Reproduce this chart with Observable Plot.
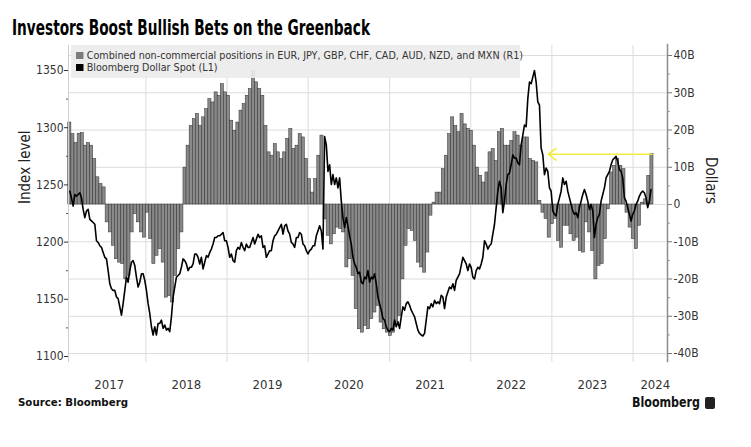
<!DOCTYPE html>
<html><head><meta charset="utf-8">
<script src="https://cdn.jsdelivr.net/npm/d3@7"></script>
<script src="https://cdn.jsdelivr.net/npm/@observablehq/plot@0.6"></script>
<style>
body{margin:0;background:#fff;}
#wrap{position:relative;width:751px;height:447px;overflow:hidden;font-family:"DejaVu Sans Condensed","DejaVu Sans",sans-serif;font-stretch:condensed;color:#222;}
#chart{position:absolute;left:0;top:0;}
#title{position:absolute;left:12px;top:18px;font-weight:bold;font-size:21px;line-height:21px;white-space:nowrap;transform-origin:0 0;color:#000;}
#legend{position:absolute;left:71px;top:45px;width:449px;height:33px;background:rgba(236,236,236,0.92);box-sizing:border-box;padding:5px 0 0 5px;font-size:10px;line-height:12.3px;color:#333;}
#legend .li{white-space:nowrap;transform-origin:0 50%;}
#legend .sw{display:inline-block;width:7px;height:7px;margin-right:3px;vertical-align:0px;}
#source{position:absolute;left:18px;top:396px;font-weight:bold;font-size:11px;line-height:14px;white-space:nowrap;color:#111;transform-origin:0 0;}
#logo{position:absolute;left:632px;top:394px;font-size:14px;line-height:17px;font-weight:bold;white-space:nowrap;color:#111;transform-origin:0 0;}
#logoIcon{position:absolute;left:705px;top:397px;width:10px;height:12px;background:#222;border-radius:2px;}
</style></head>
<body>
<div id="wrap"></div>
<script>
// ---------------- data ----------------
const titleText = "Investors Boost Bullish Bets on the Greenback";
const seriesBarName = "Combined non-commercial positions in EUR, JPY, GBP, CHF, CAD, AUD, NZD, and MXN (R1)";
const seriesLineName = "Bloomberg Dollar Spot (L1)";
const sourceText = "Source: Bloomberg";
const brandText = "Bloomberg";
const leftAxisTitle = "Index level";
const rightAxisTitle = "Dollars";

const seriesStart = "2017-01-24";   // first observation
const barStepDays = 14;             // bars: one every two weeks
const lineStepDays = 7.49;          // line: roughly weekly

// Combined non-commercial positions, billions of dollars (right axis)
const barValues = [
  22.0, 18.9, 16.5, 19.0, 19.2, 15.8, 16.5, 15.8, 12.2, 7.3, 5.5, 4.6,
  -4.8, -7.5, -11.1, -14.7, -15.6, -16.0, -20.1, -19.2, -7.5, -2.6, -4.8, -7.5,
  -8.9, -2.2, -9.3, -16.0, -13.8, -12.0, -15.6, -25.0, -24.6, -26.3, -19.2, -12.0,
  -7.5, 9.9, 15.8, 21.1, 22.9, 24.3, 21.1, 23.4, 25.6, 28.3, 27.4, 30.1,
  29.2, 32.3, 30.1, 29.2, 22.5, 19.8, 22.0, 25.2, 27.0, 29.2, 31.0, 35.9,
  32.8, 31.0, 29.2, 21.1, 14.0, 13.1, 16.2, 14.0, 12.2, 14.0, 17.6, 20.3,
  14.9, 15.8, 18.9, 18.0, 12.2, 6.8, 3.2, 6.8, 13.1, 18.5, -4.0, -8.4,
  -10.7, -8.0, -6.2, -6.6, -7.5, -16.9, -14.7, -19.2, -28.1, -33.5, -34.4, -32.6,
  -33.5, -30.8, -29.0, -27.2, -31.7, -33.5, -34.4, -35.3, -34.4, -31.7, -29.9, -20.1,
  -11.1, -6.6, -7.1, -9.8, -15.6, -16.9, -18.3, -12.9, -3.0, 0.5, 3.2, 3.2,
  9.5, 13.1, 18.9, 23.4, 21.1, 19.4, 24.3, 21.5, 20.3, 19.8, 15.8, 9.9,
  7.7, 5.9, 8.6, 14.0, 14.9, 11.7, 19.4, 20.3, 15.8, 15.8, 17.1, 19.4,
  18.5, 15.8, 18.0, 18.0, 12.2, 11.7, 11.3, 1.0, -2.2, -3.9, -8.9, -5.3,
  -3.9, -9.8, -11.6, -5.7, -5.7, -8.0, -9.8, -8.9, -12.5, -12.9, -4.8, -7.5,
  -12.5, -20.1, -16.5, -16.0, -9.3, -1.3, 8.6, 10.4, 12.2, 10.4, 9.5, -2.2,
  -6.2, -9.3, -12.0, -5.7, 0.5, 1.4, 7.7, 13.5
];

// Bloomberg Dollar Spot index level (left axis)
const lineValues = [
  1244.5, 1238.7, 1231.5, 1241.6, 1240.2, 1241.6, 1243.1, 1238.7, 1228.6, 1221.4,
  1227.2, 1228.6, 1219.9, 1218.5, 1217.1, 1215.6, 1201.2, 1199.7, 1196.8, 1195.4,
  1191.0, 1186.7, 1185.3, 1175.1, 1163.6, 1159.2, 1157.8, 1157.8, 1152.0, 1150.6,
  1143.4, 1136.1, 1146.2, 1157.8, 1169.4, 1165.0, 1175.1, 1182.4, 1183.8, 1179.5,
  1169.4, 1160.7, 1165.0, 1172.3, 1172.3, 1166.5, 1157.8, 1146.2, 1137.6, 1126.0,
  1118.8, 1126.0, 1118.8, 1128.9, 1128.9, 1131.8, 1124.6, 1127.5, 1123.1, 1124.6,
  1121.7, 1134.7, 1152.0, 1160.7, 1169.4, 1170.8, 1172.3, 1178.0, 1185.3, 1183.8,
  1180.9, 1175.1, 1178.0, 1178.0, 1180.9, 1189.6, 1189.6, 1186.7, 1180.9, 1186.7,
  1176.6, 1182.4, 1188.2, 1186.7, 1191.0, 1193.9, 1198.3, 1204.0,
  1204.0, 1205.5, 1205.5, 1206.9, 1208.4, 1201.2, 1201.2, 1195.4, 1186.7, 1189.6,
  1183.8, 1182.4, 1192.5, 1195.4, 1193.9, 1199.7, 1195.4, 1192.5, 1198.3, 1195.4,
  1195.4, 1199.7, 1204.0, 1198.3, 1202.6, 1206.9, 1204.0, 1205.5, 1195.4, 1196.8,
  1186.7, 1189.6, 1192.5, 1192.5, 1201.2, 1205.5, 1206.9, 1209.8, 1212.7, 1215.6,
  1206.9, 1214.2, 1215.6, 1209.8, 1206.9, 1199.7, 1198.3, 1195.4, 1204.0, 1204.0,
  1208.4, 1206.9, 1198.3, 1196.8, 1192.5, 1189.6, 1192.5, 1193.9, 1196.8, 1196.8,
  1205.5, 1209.8, 1214.2, 1209.8, 1193.9, 1292.2, 1285.0, 1261.8, 1267.6, 1250.3,
  1259.0, 1250.3, 1256.1, 1247.4, 1256.1, 1235.8, 1221.4, 1212.7, 1221.4, 1214.2,
  1205.5, 1198.3, 1186.7, 1180.9, 1178.0, 1172.3, 1173.7, 1165.0, 1163.6, 1169.4,
  1167.9, 1175.1, 1165.0, 1169.4, 1167.9, 1172.3, 1163.6, 1152.0, 1146.2, 1140.5,
  1133.2, 1131.8, 1126.0, 1123.1, 1121.7, 1124.6, 1123.1, 1131.8, 1126.0, 1130.3,
  1124.6, 1134.7, 1143.4, 1140.5, 1146.2, 1147.7, 1144.8, 1140.5, 1137.6, 1134.7,
  1128.9, 1123.1, 1120.2, 1118.8, 1117.9, 1120.2, 1131.8, 1143.4, 1141.9, 1146.2,
  1143.4, 1149.1, 1146.2, 1147.7, 1146.2, 1153.5, 1152.0, 1141.9, 1152.0, 1156.4,
  1160.7, 1159.2, 1163.6, 1157.8, 1166.5, 1169.4, 1172.3, 1179.5, 1186.7, 1183.8,
  1180.9, 1175.1, 1180.9, 1178.0, 1169.4, 1167.9, 1175.1, 1178.0, 1176.6, 1180.9,
  1186.7, 1201.2, 1198.3, 1193.9, 1196.8, 1198.3, 1206.9, 1215.6, 1230.1, 1244.5,
  1253.2, 1247.4, 1225.7, 1235.8, 1250.3, 1259.0, 1260.4, 1267.6, 1276.3, 1273.4,
  1273.4, 1269.1, 1267.6, 1285.0, 1293.6, 1302.3, 1300.9, 1325.4, 1339.9, 1338.4,
  1344.2, 1350.0, 1339.9, 1322.5, 1319.7, 1282.1, 1276.3, 1259.0, 1264.7, 1261.8,
  1247.4, 1244.5, 1227.2, 1224.3, 1222.8, 1232.9, 1238.7, 1244.5, 1256.1, 1250.3,
  1253.2, 1244.5, 1238.7, 1232.9, 1227.2, 1224.3, 1225.7, 1221.4, 1230.1, 1235.8,
  1241.6, 1246.0, 1241.6, 1235.8, 1228.6, 1232.9, 1227.2, 1204.0, 1215.6, 1221.4,
  1224.3, 1235.8, 1241.6, 1247.4, 1256.1, 1259.0, 1261.8, 1267.6, 1272.0, 1273.4,
  1274.9, 1270.5, 1263.3, 1261.8, 1256.1, 1238.7, 1235.8, 1230.1, 1224.3, 1218.5,
  1224.3, 1227.2, 1232.9, 1235.8, 1240.2, 1243.1, 1244.5, 1243.1, 1238.7, 1230.1,
  1235.8, 1246.0
];

const leftTicks = [1100, 1150, 1200, 1250, 1300, 1350];
const leftMinorTicks = [1125, 1175, 1225, 1275, 1325];
const rightTicks = [-40, -30, -20, -10, 0, 10, 20, 30, 40];
const rightMinorTicks = [-35, -25, -15, -5, 5, 15, 25, 35];
const rightTickLabels = ["-40B", "-30B", "-20B", "-10B", "0", "10B", "20B", "30B", "40B"];
const yearLabels = ["2017", "2018", "2019", "2020", "2021", "2022", "2023", "2024"];
const yearLabelDates = ["2017-07-20", "2018-07-02", "2019-07-02", "2020-07-02", "2021-07-02", "2022-07-02", "2023-07-02", "2024-04-10"];
const xDomainDates = ["2017-01-18", "2024-06-04"];
const arrowTargetDate = "2022-12-16";   // where the yellow annotation arrow points

// ---------------- layout ----------------
const W = 751, H = 400;
const yL = d3.scaleLinear([1100, 1350], [356, 70]);   // left axis placement
const yR = d3.scaleLinear([-40, 40], [353, 55]);      // right axis placement
const toLeft = b => yL.invert(yR(b));
const fromLeft = v => yR.invert(yL(v));
const DAY = 864e5;
const t0 = +new Date(seriesStart);
const barDate = i => new Date(t0 + i * barStepDays * DAY);
const lineDate = i => new Date(t0 + i * lineStepDays * DAY);
const xDomain = xDomainDates.map(d => new Date(d));
const yearStarts = yearLabels.slice(1).map(y => new Date(y + "-01-01"));
const yearTicks = yearLabelDates.map(d => new Date(d));
const lastBar = barValues.length - 1;
const fontStack = '"DejaVu Sans Condensed","DejaVu Sans",sans-serif';

const chart = Plot.plot({
  width: W, height: H,
  marginLeft: 68, marginRight: 84, marginTop: 45, marginBottom: 38,
  style: {fontFamily: fontStack, fontStretch: "condensed", color: "#333", background: "transparent"},
  x: {type: "utc", domain: xDomain},
  y: {domain: [1100, 1350], range: [356, 70]},
  marks: [
    Plot.gridY(rightTicks.map(toLeft), {stroke: "#dcdcdc", strokeOpacity: 1}),
    Plot.gridX(yearStarts, {stroke: "#dcdcdc", strokeOpacity: 1}),
    Plot.rect(barValues, {
      x1: (d, i) => new Date(+barDate(i) - barStepDays / 2 * DAY),
      x2: (d, i) => new Date(+barDate(i) + barStepDays / 2 * DAY),
      y1: toLeft(0), y2: d => toLeft(d),
      fill: "#8a8a8a", stroke: "#2e2e2e", strokeWidth: 0.5
    }),
    Plot.lineY(lineValues, {x: (d, i) => lineDate(i), y: d => d, stroke: "#000", strokeWidth: 1.6}),
    Plot.arrow([lastBar], {
      x1: i => barDate(i), y1: i => toLeft(barValues[i]),
      x2: () => new Date(arrowTargetDate), y2: i => toLeft(barValues[i]),
      stroke: "#f3ec3c", strokeWidth: 1.6, headLength: 9, headAngle: 75
    }),
    Plot.ruleX([xDomain[0]], {stroke: "#cfcfcf", strokeWidth: 1}),
    Plot.ruleX([xDomain[1]], {stroke: "#8c8c8c", strokeWidth: 1.5, y1: toLeft(43), y2: toLeft(-42.5)}),
    Plot.axisY(leftTicks, {anchor: "left", tickSize: 4, tickPadding: 1, fontSize: 12, label: null, stroke: "#333",
      tickFormat: d => String(d)}),
    Plot.axisY(leftMinorTicks, {anchor: "left", tickSize: 2, tickFormat: () => "", label: null, stroke: "#555"}),
    Plot.axisY(rightTicks.map(toLeft), {anchor: "right", tickSize: 4, tickPadding: 2, fontSize: 12, label: null, stroke: "#777",
      tickFormat: v => rightTickLabels[rightTicks.indexOf(Math.round(fromLeft(v)))]}),
    Plot.axisY(rightMinorTicks.map(toLeft), {anchor: "right", tickSize: 2, tickFormat: () => "", label: null, stroke: "#999"}),
    Plot.axisX(yearTicks, {anchor: "bottom", tickSize: 0, tickPadding: 17, fontSize: 13, label: null,
      tickFormat: d => yearLabels[yearTicks.findIndex(m => +m === +d)]}),
    Plot.text([leftAxisTitle], {frameAnchor: "left", rotate: -90, dx: -43, fontSize: 15, fill: "#222"}),
    Plot.text([rightAxisTitle], {frameAnchor: "right", rotate: 90, dx: 43, fontSize: 15, fill: "#222"})
  ]
});
chart.id = "chart";

const wrap = document.getElementById("wrap");
wrap.appendChild(chart);

const title = document.createElement("div");
title.id = "title"; title.textContent = titleText;
wrap.appendChild(title);

const legend = document.createElement("div");
legend.id = "legend";
[[seriesBarName, "#7c7c7c"], [seriesLineName, "#000"]].forEach(([name, c]) => {
  const li = document.createElement("div"); li.className = "li";
  const sw = document.createElement("span"); sw.className = "sw"; sw.style.background = c;
  li.appendChild(sw); li.appendChild(document.createTextNode(name));
  legend.appendChild(li);
});
wrap.appendChild(legend);

const src = document.createElement("div");
src.id = "source"; src.textContent = sourceText;
wrap.appendChild(src);

const logo = document.createElement("div");
logo.id = "logo"; logo.textContent = brandText;
wrap.appendChild(logo);
const icon = document.createElement("div");
icon.id = "logoIcon";
wrap.appendChild(icon);

function fitWidth(el, target) {
  el.style.display = "inline-block";
  const w = el.getBoundingClientRect().width;
  if (w > 0) el.style.transform = `scaleX(${target / w})`;
}
fitWidth(title, 358);
fitWidth(legend.children[0], 447);
legend.children[1].style.transform = legend.children[0].style.transform;
fitWidth(src, 110);
fitWidth(logo, 68);
</script>
</body></html>
